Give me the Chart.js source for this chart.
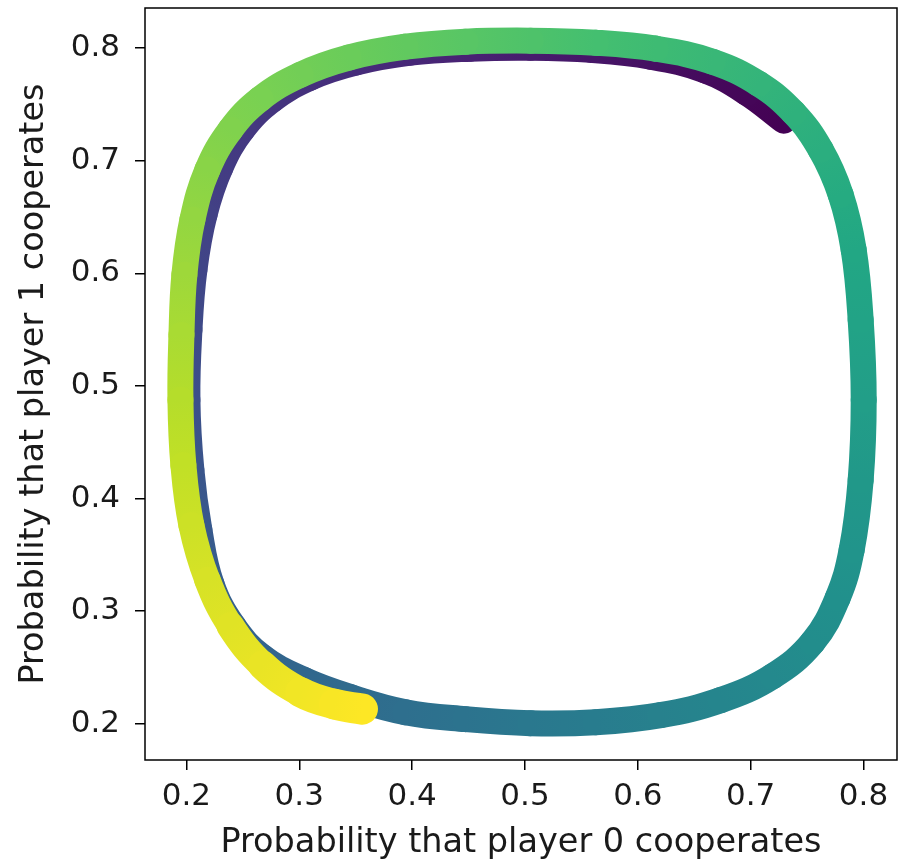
<!DOCTYPE html>
<html>
<head>
<meta charset="utf-8">
<script src="https://cdn.jsdelivr.net/npm/chart.js@4.4.1/dist/chart.umd.min.js"></script>
<style>
 body { margin: 0; background: #fff; }
</style>
</head>
<body>
<canvas id="orbit" width="907" height="863"></canvas>
<script>
// trajectory, in time order (player 0 prob, player 1 prob)
const p0Coop = [
 0.7293, 0.6965, 0.6601, 0.6113, 0.5582, 0.5050, 0.4518, 0.3986, 0.3498, 0.3099,
 0.2762, 0.2496, 0.2301, 0.2160, 0.2071, 0.2027, 0.2009, 0.2044, 0.2115, 0.2222,
 0.2416, 0.2674, 0.3046, 0.3454, 0.3941, 0.4473, 0.5050, 0.5626, 0.6202, 0.6734,
 0.7195, 0.7550, 0.7771, 0.7895, 0.7975, 0.8002, 0.7975, 0.7913, 0.7798, 0.7621,
 0.7381, 0.7071, 0.6663, 0.6158, 0.5626, 0.5050, 0.4473, 0.3941, 0.3436, 0.3011,
 0.2656, 0.2390, 0.2186, 0.2053, 0.1982, 0.1956, 0.1947, 0.1973, 0.2044, 0.2186,
 0.2390, 0.2674, 0.3011, 0.3312, 0.3560
]
const p1Coop = [
 0.7356, 0.7604, 0.7800, 0.7925, 0.7985, 0.8004, 0.7996, 0.7960, 0.7871, 0.7738,
 0.7542, 0.7276, 0.6938, 0.6520, 0.6031, 0.5498, 0.4876, 0.4253, 0.3720, 0.3240,
 0.2867, 0.2591, 0.2387, 0.2236, 0.2102, 0.2040, 0.2004, 0.2013, 0.2076, 0.2209,
 0.2422, 0.2724, 0.3116, 0.3542, 0.4164, 0.4876, 0.5587, 0.6209, 0.6698, 0.7098,
 0.7427, 0.7684, 0.7880, 0.7996, 0.8049, 0.8067, 0.8058, 0.8013, 0.7916, 0.7764,
 0.7551, 0.7276, 0.6920, 0.6476, 0.5987, 0.5453, 0.4876, 0.4298, 0.3764, 0.3276,
 0.2867, 0.2520, 0.2280, 0.2173, 0.2129
]
const xTicks = [0.2, 0.3, 0.4, 0.5, 0.6, 0.7, 0.8]
const yTicks = [0.2, 0.3, 0.4, 0.5, 0.6, 0.7, 0.8]
const xRange = [0.1633, 0.8297]
const yRange = [0.1677, 0.8357]

// viridis stops
const viridis = ["#440154", "#482475", "#414487", "#355f8d", "#2a788e", "#21918c",
 "#22a884", "#44bf70", "#7ad151", "#bddf26", "#fde725"]

function hexRgb(h) {
 return [1, 3, 5].map(i => parseInt(h.slice(i, i + 2), 16))
}

function viridisAt(t) {
 const f = Math.min(Math.max(t, 0), 1) * (viridis.length - 1)
 const i = Math.min(Math.floor(f), viridis.length - 2)
 const a = hexRgb(viridis[i]), b = hexRgb(viridis[i + 1])
 const k = f - i
 const c = a.map((v, j) => Math.round(v + (b[j] - v) * k))
 return "rgb(" + c.join(",") + ")"
}

// colour follows time, taken as distance along the path
const along = [0]
for (let i = 1; i < p0Coop.length; i++) {
 along.push(along[i - 1] + Math.hypot(p0Coop[i] - p0Coop[i - 1], p1Coop[i] - p1Coop[i - 1]))
}
const tFrac = along.map(d => d / along[along.length - 1])

// marker band gets a little fatter over the last stretch
function bandWidth(t) {
 return 26 + Math.max(0, (t - 0.95) / 0.05) * 5
}

const canvas = document.getElementById("orbit")
const g = canvas.getContext("2d")

const frame = {
 id: "frame",
 afterDraw(chart) {
  const a = chart.chartArea
  const c = chart.ctx
  c.save()
  c.strokeStyle = "#000"
  c.lineWidth = 1.5
  c.strokeRect(a.left, a.top, a.right - a.left, a.bottom - a.top)
  c.restore()
 }
}

const tickFont = { family: "DejaVu Sans", size: 31 }
const titleFont = { family: "DejaVu Sans", size: 33.5 }

new Chart(canvas, {
 type: "scatter",
 data: {
  datasets: [{
   data: p0Coop.map((x, i) => ({ x: x, y: p1Coop[i] })),
   showLine: true,
   borderWidth: 26,
   borderColor: viridis[0],
   borderCapStyle: "round",
   borderJoinStyle: "round",
   pointRadius: 0,
   tension: 0.4,
   segment: {
    borderColor: ctx => {
     const grad = g.createLinearGradient(ctx.p0.x, ctx.p0.y, ctx.p1.x, ctx.p1.y)
     grad.addColorStop(0, viridisAt(tFrac[ctx.p0DataIndex]))
     grad.addColorStop(1, viridisAt(tFrac[ctx.p1DataIndex]))
     return grad
    },
    borderWidth: ctx => bandWidth(tFrac[ctx.p1DataIndex]),
    borderCapStyle: () => "round"
   }
  }]
 },
 options: {
  responsive: false,
  animation: false,
  events: [],
  layout: { padding: { top: 8, right: 10, left: 0, bottom: 0 } },
  plugins: { legend: { display: false }, tooltip: { enabled: false } },
  scales: {
   x: {
    type: "linear",
    min: xRange[0],
    max: xRange[1],
    afterBuildTicks: s => { s.ticks = xTicks.map(v => ({ value: v })) },
    afterFit: s => { s.height = 103; s.paddingLeft = 0; s.paddingRight = 0 },
    border: { display: false },
    grid: { drawOnChartArea: false, drawTicks: true, tickLength: 10, color: "#000", lineWidth: 1.5 },
    ticks: { font: tickFont, color: "#1a1a1a", padding: 8, maxRotation: 0, callback: v => v.toFixed(1) },
    title: { display: true, text: "Probability that player 0 cooperates", font: titleFont, color: "#1a1a1a", padding: { top: 0, bottom: 0 } }
   },
   y: {
    type: "linear",
    min: yRange[0],
    max: yRange[1],
    afterBuildTicks: s => { s.ticks = yTicks.map(v => ({ value: v })) },
    afterFit: s => { s.width = 145; s.paddingTop = 0; s.paddingBottom = 0 },
    border: { display: false },
    grid: { drawOnChartArea: false, drawTicks: true, tickLength: 10, color: "#000", lineWidth: 1.5 },
    ticks: { font: tickFont, color: "#1a1a1a", padding: 15, callback: v => v.toFixed(1) },
    title: { display: true, text: "Probability that player 1 cooperates", font: titleFont, color: "#1a1a1a", padding: { top: 14, bottom: 0 } }
   }
  }
 },
 plugins: [frame]
})
</script>
</body>
</html>
